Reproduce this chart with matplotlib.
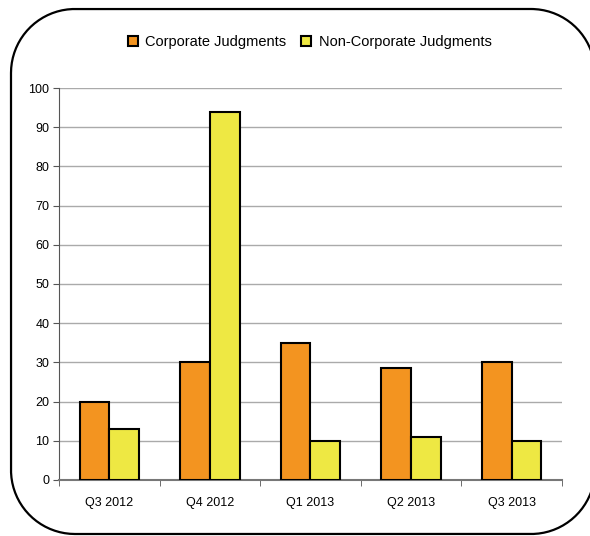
import numpy as np
import matplotlib.pyplot as plt
from matplotlib.lines import Line2D

# data
quarters = ["Q3 2012", "Q4 2012", "Q1 2013", "Q2 2013", "Q3 2013"]
corporate = [20, 30, 35, 28.5, 30]
non_corporate = [13, 94, 10, 11, 10]

plt.rcParams['font.family'] = ['Liberation Sans', 'DejaVu Sans']
plt.rcParams['font.size'] = 9


def rounded_outline(x0, y0, x1, y1, r, n=40):
    # polyline of a rounded rectangle (inches), corners as sampled arcs
    pts = []
    for cx, cy, a0 in [(x1 - r, y1 - r, 0), (x0 + r, y1 - r, 90),
                       (x0 + r, y0 + r, 180), (x1 - r, y0 + r, 270)]:
        t = np.radians(np.linspace(a0, a0 + 90, n))
        pts.append(np.column_stack([cx + r * np.cos(t), cy + r * np.sin(t)]))
    pts = np.vstack(pts + [pts[0][:1]])
    return pts[:, 0], pts[:, 1]


fig = plt.figure(figsize=(5.9, 5.36), dpi=100)
ax = fig.add_axes([0.1, 0.1045, 0.8525, 0.7313])

# rounded frame round the whole chart (runs off the right edge, as in the original)
fx, fy = rounded_outline(0.11, 0.02, 5.95, 5.27, 0.64)
fig.lines.append(Line2D(fx, fy, transform=fig.dpi_scale_trans, color='black',
                        linewidth=1.6, solid_joinstyle='round'))

x = np.arange(len(quarters))
w = 0.295
ax.bar(x - w / 2, corporate, w, color='#F39420', edgecolor='black', linewidth=1.5,
       label='Corporate Judgments', zorder=3)
ax.bar(x + w / 2, non_corporate, w, color='#EEE843', edgecolor='black', linewidth=1.5,
       label='Non-Corporate Judgments', zorder=3)

ax.set_xlim(-0.5, len(quarters) - 0.5)
ax.set_ylim(0, 100)
ax.set_yticks(np.arange(0, 101, 10))
ax.set_xticks(x)
ax.set_xticklabels(quarters)
ax.set_xticks(np.arange(-0.5, len(quarters), 1), minor=True)
ax.tick_params(axis='x', which='major', length=0, pad=12)
ax.tick_params(axis='x', which='minor', length=4, color='#555555')
ax.tick_params(axis='y', length=4, color='#555555', pad=3)

ax.grid(axis='y', color='#AAAAAA', linewidth=1, zorder=0)
for s in ['top', 'right']:
    ax.spines[s].set_visible(False)
ax.spines['left'].set_color('#555555')
ax.spines['bottom'].set_color('#777777')
ax.spines['bottom'].set_linewidth(1.5)

fig.legend(loc='center', bbox_to_anchor=(0.525, 0.922), ncol=2, frameon=False,
           fontsize=10.5, handlelength=0.7, handleheight=0.7, handletextpad=0.5,
           columnspacing=1.0)

fig.savefig('out.png', dpi=100)
